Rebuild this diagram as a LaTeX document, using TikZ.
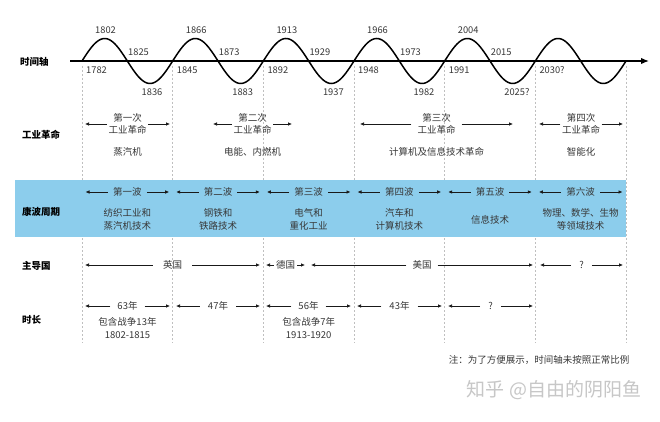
\documentclass[tikz,border=0pt]{standalone}
\usepackage{fontspec}
\newfontfamily\cjk{Noto Sans CJK SC}
\usetikzlibrary{arrows.meta}
\definecolor{bandblue}{RGB}{140,205,236}
\definecolor{txt}{RGB}{55,55,55}
\definecolor{ink}{RGB}{25,25,25}
\newcommand\spanarr[6]{%
  \node[lbl, inner xsep=#5] (#1) at ({(#2+#3)/2},#4) {#6};
  \coordinate (#1-l) at ({#2},#4);
  \coordinate (#1-r) at ({#3},#4);
  \draw[arr] (#1.west) -- (#1-l);
  \draw[arr] (#1.east) -- (#1-r);
}
\begin{document}
\begin{tikzpicture}[x=1pt,y=-1pt,
  lbl/.style={font=\cjk\fontsize{9.5}{12.5}\selectfont, text=txt, align=center, inner ysep=1pt},
  yr/.style={font=\cjk\fontsize{9.3}{10}\selectfont, text=txt, inner sep=0pt},
  rowlbl/.style={font=\cjk\bfseries\fontsize{9.5}{11}\selectfont, text=black, anchor=west, inner sep=0pt},
  arr/.style={draw=ink, line width=0.75pt, -{Latex[length=4pt,width=3.6pt]}},
  axisline/.style={draw=black, line width=1.4pt, -{Latex[length=8pt,width=6.5pt]}},
  wave/.style={draw=black, line width=1.5pt},
  vdash/.style={draw=black!25, line width=0.6pt, dash pattern=on 2pt off 2pt},
  note/.style={font=\cjk\fontsize{9.5}{11}\selectfont, text=txt},
  wm/.style={font=\cjk\fontsize{19}{22}\selectfont, text=black!22}]
\useasboundingbox (0,0) rectangle (660,422);
\fill[white] (0,0) rectangle (660,422);

% vertical guide lines
\foreach \i in {0,...,6}{
  \coordinate (g\i t) at ({82+90.667*\i},66);
  \coordinate (g\i b) at ({82+90.667*\i},343);
  \draw[vdash] (g\i t) -- (g\i b);
}

% blue band
\fill[bandblue] (15,180) rectangle (626,237);

% axis and wave
\coordinate (ax0) at (70,61);
\coordinate (ax1) at (649,61);
\draw[axisline] (ax0) -- (ax1);
\draw[wave] plot[domain=0:6, samples=300, smooth] ({82+90.667*\x},{61-22.5*sin(360*\x)});

% year labels
\foreach \k/\a/\b/\c/\d in {0/1782/1802/1825/1836, 1/1845/1866/1873/1883, 2/1892/1913/1929/1937, 3/1948/1966/1973/1982, 4/1991/2004/2015/2025?}{
  \node[yr, anchor=west] (s\k) at ({82+90.667*\k+4},70) {\a};
  \node[yr] (p\k) at ({82+90.667*\k+23.5},30) {\b};
  \node[yr, anchor=west] (m\k) at ({82+90.667*\k+46},52) {\c};
  \node[yr, anchor=west] (t\k) at ({82+90.667*\k+59.5},92.5) {\d};
}
\node[yr, anchor=west] (s5) at ({82+90.667*5+4},70) {2030?};

% row labels
\node[rowlbl] (r1) at (20,61.5) {时间轴};
\node[rowlbl] (r2) at (22,135) {工业革命};
\node[rowlbl] (r3) at (22,212) {康波周期};
\node[rowlbl] (r4) at (22,266) {主导国};
\node[rowlbl] (r5) at (22,320) {时长};

% industrial revolutions
\spanarr{ir1}{85}{170}{124}{1.5pt}{第一次\\工业革命}
\spanarr{ir2}{213}{292}{124}{1.5pt}{第二次\\工业革命}
\spanarr{ir3}{360}{513}{124}{6pt}{第三次\\工业革命}
\spanarr{ir4}{539}{623}{124}{1.5pt}{第四次\\工业革命}
\node[lbl] (ir1c) at (127.5,152) {蒸汽机};
\node[lbl] (ir2c) at (252.5,152) {电能、内燃机};
\node[lbl] (ir3c) at (436.5,152) {计算机及信息技术革命};
\node[lbl] (ir4c) at (581,152) {智能化};

% Kondratiev waves
\foreach \i/\t in {0/第一波, 1/第二波, 2/第三波, 3/第四波, 4/第五波, 5/第六波}{
  \spanarr{kw\i}{82+90.667*\i+3.5}{82+90.667*(\i+1)-3.5}{192}{5pt}{\t}
}
\node[lbl] (kc0) at (127.3,219.5) {纺织工业和\\蒸汽机技术};
\node[lbl] (kc1) at (218,219.5) {钢铁和\\铁路技术};
\node[lbl] (kc2) at (308.7,219.5) {电气和\\重化工业};
\node[lbl] (kc3) at (399.3,219.5) {汽车和\\计算机技术};
\node[lbl] (kc4) at (490,219.5) {信息技术};
\node[lbl] (kc5) at (580.7,219.5) {物理、数学、生物\\等领域技术};

% leading countries
\spanarr{dc1}{85}{260}{265}{10pt}{英国}
\spanarr{dc2}{266}{305}{265}{2pt}{德国}
\spanarr{dc3}{311}{533}{265}{6pt}{美国}
\spanarr{dc4}{540}{623}{265}{8pt}{?}

% durations
\spanarr{du1}{85}{170}{306}{7pt}{63年}
\spanarr{du2}{176}{260}{306}{8pt}{47年}
\spanarr{du3}{266}{351}{306}{7pt}{56年}
\spanarr{du4}{357}{442}{306}{8pt}{43年}
\spanarr{du5}{448}{533}{306}{8pt}{?}
\node[lbl] (dn1) at (127.5,328) {包含战争13年\\1802-1815};
\node[lbl] (dn3) at (308.7,328) {包含战争7年\\1913-1920};

% note and watermark
\node[note, anchor=east] (nt) at (633,360) {注：为了方便展示，时间轴未按照正常比例};
\node[wm] (wmk) at (554,390) {知乎 @自由的阴阳鱼};
\end{tikzpicture}
\end{document}
